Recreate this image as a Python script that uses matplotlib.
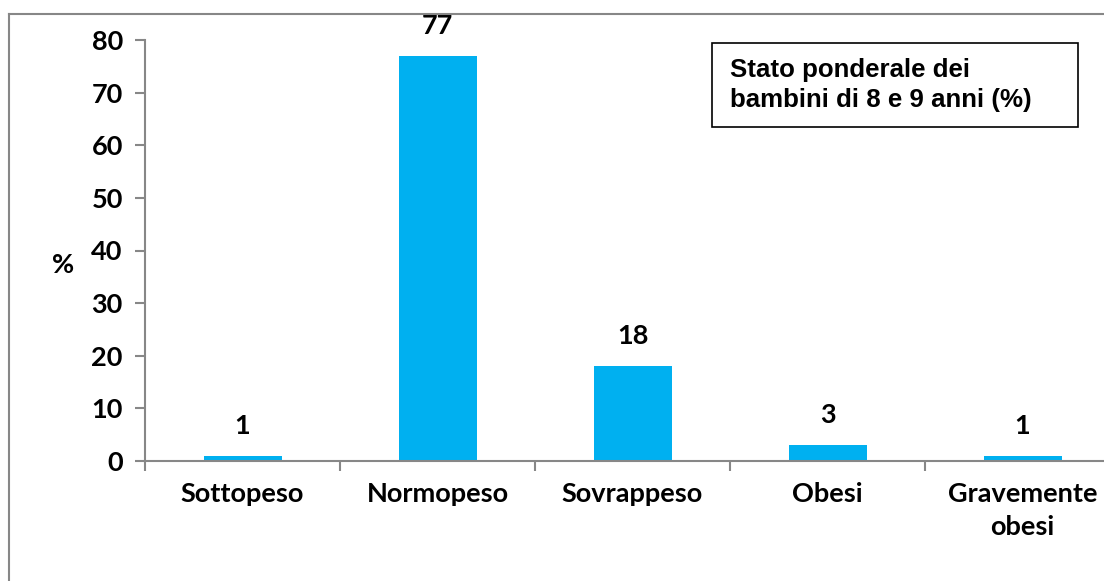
import matplotlib.pyplot as plt
from matplotlib.lines import Line2D
from matplotlib.patches import Rectangle

categories = ["Sottopeso", "Normopeso", "Sovrappeso", "Obesi", "Gravemente\nobesi"]
values = [1, 77, 18, 3, 1]
yticks = [0, 10, 20, 30, 40, 50, 60, 70, 80]

fs = 19.5
fw = "bold"

fig = plt.figure(figsize=(11.04, 5.81), dpi=100)
# axes run past the right edge like in the original (cropped) picture
ax = fig.add_axes([145 / 1104, 1 - 461 / 581, 975 / 1104, 421 / 581])

x = list(range(len(categories)))
ax.bar(x, values, width=0.4, color="#00B0F0")
ax.set_xlim(-0.5, len(categories) - 0.5)
ax.set_ylim(0, 80)

for xi, v in zip(x, values):
    ax.annotate(str(v), (xi, v), xytext=(0, 13), textcoords="offset points",
                ha="center", va="bottom", fontsize=fs, fontweight=fw,
                family="Lato")

gray = "#878787"
for s in ["top", "right"]:
    ax.spines[s].set_visible(False)
for s in ["left", "bottom"]:
    ax.spines[s].set_color(gray)
    ax.spines[s].set_linewidth(1.5)

ax.set_yticks(yticks)
ax.set_yticklabels([str(t) for t in yticks], fontsize=fs, fontweight=fw, family="Lato")
ax.tick_params(axis="y", length=7, width=1.5, color=gray, pad=9)

ax.set_xticks([i - 0.5 for i in range(len(categories) + 1)])
ax.set_xticklabels([])
ax.tick_params(axis="x", which="major", length=7, width=1.5, color=gray)
ax.set_xticks(x, minor=True)
ax.set_xticklabels(categories, minor=True, fontsize=fs, fontweight=fw,
                   family="Lato", va="top", linespacing=1.45)
ax.tick_params(axis="x", which="minor", length=0, pad=15)

ax.set_ylabel("%", rotation=0, fontsize=fs, fontweight=fw, family="Lato",
              va="center")
ax.yaxis.set_label_coords(-0.084, 0.465)

# legend-like text box
fig.add_artist(Rectangle((712 / 1104, 1 - 127 / 581), 366 / 1104, 84 / 581,
                         transform=fig.transFigure, fill=False, edgecolor="black",
                         linewidth=1.2))
fig.text(730 / 1104, 1 - 85 / 581, "Stato ponderale dei\nbambini di 8 e 9 anni (%)",
         ha="left", va="center", fontsize=18.6, fontweight="bold",
         family="Liberation Sans", linespacing=1.3)

# outer chart frame (only left and top visible)
fig.add_artist(Line2D([8.5 / 1104, 8.5 / 1104], [0, 1 - 14 / 581], color=gray, lw=1.5))
fig.add_artist(Line2D([8.5 / 1104, 1], [1 - 14 / 581, 1 - 14 / 581], color=gray, lw=1.5))

fig.savefig("out.png", dpi=100)
